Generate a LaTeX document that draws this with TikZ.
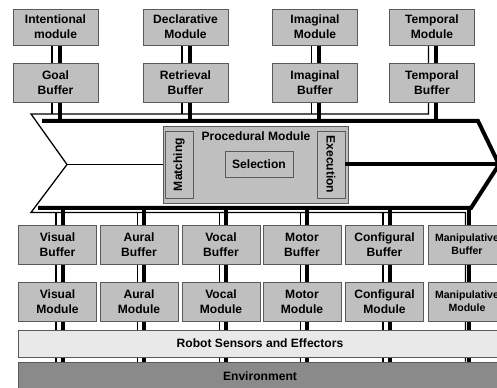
\documentclass[tikz,border=0pt]{standalone}
\usepackage{fontspec}
\setmainfont{Liberation Sans}
\usetikzlibrary{calc,backgrounds}
\definecolor{boxgrey}{RGB}{191,191,191}
\definecolor{boxedge}{RGB}{90,90,90}
\definecolor{sensorgrey}{RGB}{233,233,233}
\definecolor{envgrey}{RGB}{138,138,138}

\begin{document}
\begin{tikzpicture}[x=0.25mm, y=-0.25mm,
    unit/.style={rectangle, draw=boxedge, line width=0.6pt, fill=boxgrey, align=center,
                 font=\bfseries\fontsize{8.6}{10.6}\selectfont, inner sep=1pt,
                 minimum width=21.25mm, minimum height=9mm},
    topbuf/.style={unit, minimum height=9.75mm},
    lowunit/.style={unit, minimum width=19.5mm, minimum height=9.75mm},
    narrow/.style={lowunit, font=\bfseries\fontsize{7.5}{9}\selectfont},
    bar/.style={rectangle, draw=boxedge, line width=0.6pt, minimum width=121mm,
                minimum height=6.75mm, font=\bfseries\fontsize{8.6}{10.6}\selectfont},
    thinline/.style={line width=0.9pt},
    thickline/.style={line width=1mm}
]
    \useasboundingbox (0,0) rectangle (497,388);
    \clip (0,0) rectangle (497,388);
    % upper modules and buffers
    \node[unit] (intm) at (55.5,27) {Intentional\\module};
    \node[unit] (decm) at (185.5,27) {Declarative\\Module};
    \node[unit] (imgm) at (315,27) {Imaginal\\Module};
    \node[unit] (temm) at (432,27) {Temporal\\Module};
    \node[topbuf] (goalb) at (55.5,82.5) {Goal\\Buffer};
    \node[topbuf] (retb) at (185.5,82.5) {Retrieval\\Buffer};
    \node[topbuf] (imgb) at (315,82.5) {Imaginal\\Buffer};
    \node[topbuf] (temb) at (432,82.5) {Temporal\\Buffer};
    % procedural module
    \node[unit, minimum width=46.25mm, minimum height=19.25mm] (proc) at (255.5,164.5) {};
    \node[font=\bfseries\fontsize{8.6}{10.6}\selectfont] (proctitle) at (256,136) {Procedural Module};
    \node[unit, rotate=90, minimum width=16.75mm, minimum height=7mm] (match) at (179,164.5) {Matching};
    \node[unit, rotate=-90, minimum width=16.75mm, minimum height=7mm] (exec) at (331,164.5) {Execution};
    \node[unit, minimum width=17mm, minimum height=6.5mm] (sel) at (259,164) {Selection};
    % lower buffers and modules
    \node[lowunit] (visb) at (57.5,244.5) {Visual\\Buffer};
    \node[lowunit] (aurb) at (139,244.5) {Aural\\Buffer};
    \node[lowunit] (vocb) at (221,244.5) {Vocal\\Buffer};
    \node[lowunit] (motb) at (302,244.5) {Motor\\Buffer};
    \node[lowunit] (conb) at (384.5,244.5) {Configural\\Buffer};
    \node[narrow] (manb) at (467,244.5) {Manipulative\\Buffer};
    \node[lowunit] (vism) at (57.5,301.5) {Visual\\Module};
    \node[lowunit] (aurm) at (139,301.5) {Aural\\Module};
    \node[lowunit] (vocm) at (221,301.5) {Vocal\\Module};
    \node[lowunit] (motm) at (302,301.5) {Motor\\Module};
    \node[lowunit] (conm) at (384.5,301.5) {Configural\\Module};
    \node[narrow] (manm) at (467,301.5) {Manipulative\\Module};
    \node[bar, fill=sensorgrey] (robot) at (260,343.5) {Robot Sensors and Effectors};
    \node[bar, fill=envgrey, minimum height=7mm] (env) at (260,376) {Environment};
    % bus corners
    \coordinate (ttip) at (31,114);
    \coordinate (notch) at (67,164.5);
    \coordinate (btip) at (31,212.5);
    \coordinate (kt) at (42,121);
    \coordinate (ktr) at (478,121);
    \coordinate (head) at (499,164.5);
    \coordinate (kbr) at (471,208);
    \coordinate (kb) at (38,208);
    \begin{scope}[on background layer]
        \draw[thinline] ([xshift=-0.9mm]temm.south) |- (ttip) -- (notch) -- (btip)
            -| ([xshift=-0.4mm]manb.north |- env.north);
        \draw[thickline] (kt) -- (ktr) -- (head) -- (kbr) -- (kb);
        \draw[thinline] (notch) -- (proc.west);
        \draw[thinline] ([xshift=-0.9mm]intm.south) -- ([xshift=-0.9mm]intm.south |- ttip);
        \draw[thinline] ([xshift=-0.9mm]decm.south) -- ([xshift=-0.9mm]decm.south |- ttip);
        \draw[thinline] ([xshift=-0.9mm]imgm.south) -- ([xshift=-0.9mm]imgm.south |- ttip);
        \draw[thickline] ([xshift=1.1mm]intm.south) -- ([xshift=1.1mm]intm.south |- kt);
        \draw[thickline] ([xshift=1.1mm]decm.south) -- ([xshift=1.1mm]decm.south |- kt);
        \draw[thickline] ([xshift=1.1mm]imgm.south) -- ([xshift=1.1mm]imgm.south |- kt);
        \draw[thickline] ([xshift=1.1mm]temm.south) -- ([xshift=1.1mm]temm.south |- kt);
        \draw[thinline] ([xshift=-0.4mm]visb.north |- btip) -- ([xshift=-0.4mm]visb.north |- env.north);
        \draw[thinline] ([xshift=-0.4mm]aurb.north |- btip) -- ([xshift=-0.4mm]aurb.north |- env.north);
        \draw[thinline] ([xshift=-0.4mm]vocb.north |- btip) -- ([xshift=-0.4mm]vocb.north |- env.north);
        \draw[thinline] ([xshift=-0.4mm]motb.north |- btip) -- ([xshift=-0.4mm]motb.north |- env.north);
        \draw[thinline] ([xshift=-0.4mm]conb.north |- btip) -- ([xshift=-0.4mm]conb.north |- env.north);
        \draw[thickline] ([xshift=1.3mm]visb.north |- kb) -- ([xshift=1.3mm]visb.north |- env.north);
        \draw[thickline] ([xshift=1.3mm]aurb.north |- kb) -- ([xshift=1.3mm]aurb.north |- env.north);
        \draw[thickline] ([xshift=1.3mm]vocb.north |- kb) -- ([xshift=1.3mm]vocb.north |- env.north);
        \draw[thickline] ([xshift=1.3mm]motb.north |- kb) -- ([xshift=1.3mm]motb.north |- env.north);
        \draw[thickline] ([xshift=1.3mm]conb.north |- kb) -- ([xshift=1.3mm]conb.north |- env.north);
        \draw[thickline] ([xshift=0.6mm]manb.north |- kb) -- ([xshift=0.6mm]manb.north |- env.north);
    \end{scope}
    \draw[thickline] (exec.north) -- (head);
\end{tikzpicture}
\end{document}
